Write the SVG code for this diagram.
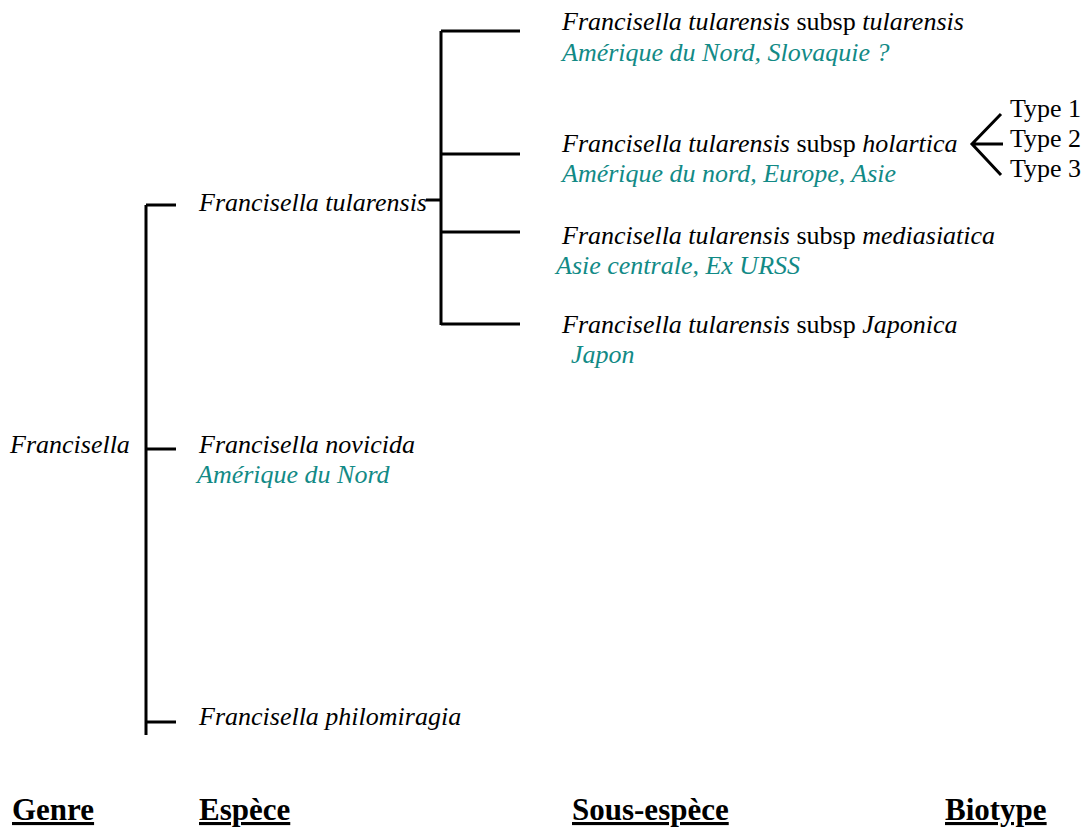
<svg xmlns="http://www.w3.org/2000/svg" width="1085" height="827" viewBox="0 0 1085 827">
<g id="connectors" stroke="#000" stroke-width="3" fill="none">
<path d="M146,205 V735 M146,205 H176 M146,449 H176 M146,722 H176"/>
<path d="M426,200 H441 M441,31 V325 M441,31 H520 M441,154 H520 M441,232 H520 M441,324 H520"/>
<path d="M1001,114 L972,144 L1001,175 M972,144 H1003"/>
</g>
<g id="genre"><text font-family="Liberation Serif" font-size="26" font-style="italic" x="10" y="453">Francisella</text></g>
<g id="sp-tularensis"><text font-family="Liberation Serif" font-size="26" font-style="italic" x="199" y="211">Francisella tularensis</text></g>
<g id="sp-novicida"><text font-family="Liberation Serif" font-size="26" font-style="italic" x="199" y="453">Francisella novicida</text><text font-family="Liberation Serif" font-size="26" font-style="italic" fill="#128a86" x="197" y="483">Amérique du Nord</text></g>
<g id="sp-philomiragia"><text font-family="Liberation Serif" font-size="26" font-style="italic" x="199" y="725">Francisella philomiragia</text></g>
<g id="ssp-tularensis"><text font-family="Liberation Serif" font-size="26" x="562" y="30"><tspan font-style="italic">Francisella tularensis</tspan> subsp <tspan font-style="italic">tularensis</tspan></text><text font-family="Liberation Serif" font-size="26" font-style="italic" fill="#128a86" x="562" y="61">Amérique du Nord, Slovaquie ?</text></g>
<g id="ssp-holartica"><text font-family="Liberation Serif" font-size="26" x="562" y="152"><tspan font-style="italic">Francisella tularensis</tspan> subsp <tspan font-style="italic">holartica</tspan></text><text font-family="Liberation Serif" font-size="26" font-style="italic" fill="#128a86" x="562" y="182">Amérique du nord, Europe, Asie</text></g>
<g id="ssp-mediasiatica"><text font-family="Liberation Serif" font-size="26" x="562" y="244"><tspan font-style="italic">Francisella tularensis</tspan> subsp <tspan font-style="italic">mediasiatica</tspan></text><text font-family="Liberation Serif" font-size="26" font-style="italic" fill="#128a86" x="556" y="274">Asie centrale, Ex URSS</text></g>
<g id="ssp-japonica"><text font-family="Liberation Serif" font-size="26" x="562" y="333"><tspan font-style="italic">Francisella tularensis</tspan> subsp <tspan font-style="italic">Japonica</tspan></text><text font-family="Liberation Serif" font-size="26" font-style="italic" fill="#128a86" x="571" y="363">Japon</text></g>
<g id="biotypes"><text font-family="Liberation Serif" font-size="26" x="1010" y="117">Type 1</text><text font-family="Liberation Serif" font-size="26" x="1010" y="147">Type 2</text><text font-family="Liberation Serif" font-size="26" x="1010" y="177">Type 3</text></g>
<g id="headers">
<text font-family="Liberation Serif" font-size="31" font-weight="bold" text-decoration="underline" x="12" y="820">Genre</text>
<text font-family="Liberation Serif" font-size="31" font-weight="bold" text-decoration="underline" x="199" y="820">Espèce</text>
<text font-family="Liberation Serif" font-size="31" font-weight="bold" text-decoration="underline" x="572" y="820">Sous-espèce</text>
<text font-family="Liberation Serif" font-size="31" font-weight="bold" text-decoration="underline" x="945" y="820">Biotype</text>
</g>
</svg>
